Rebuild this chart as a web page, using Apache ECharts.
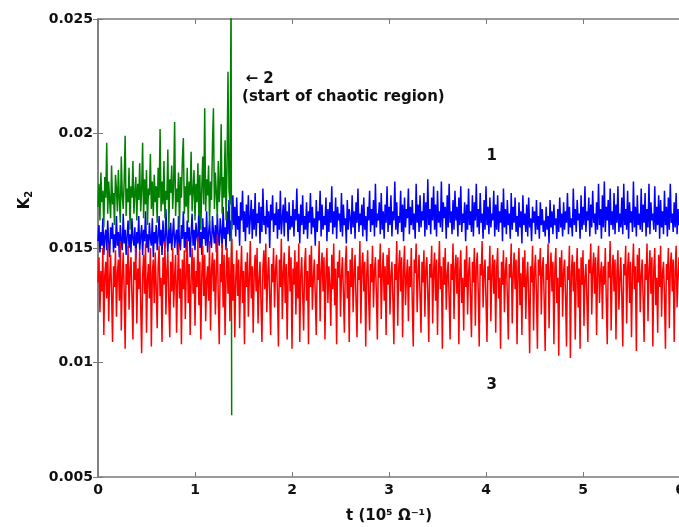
<!DOCTYPE html>
<html>
<head>
<meta charset="utf-8">
<script src="https://cdn.jsdelivr.net/npm/echarts@6/dist/echarts.min.js"></script>
<style>html,body{margin:0;padding:0;background:#fff;}#c{width:679px;height:527px;}</style>
</head>
<body>
<div id="c"></div>
<script>
// sampling step of the time axis (10^5 / Omega)
const T_STEP = 0.01;
const xTicks = [0, 1, 2, 3, 4, 5, 6];
const yTicks = [0.005, 0.01, 0.015, 0.02, 0.025];

// curve 1 (blue), t = 0 .. 6
const curve1 = [
.0153,.0160,.0148,.0157,.0151,.0163,.0147,.0155,.0158,.0149,.0162,.0152,.0146,.0159,.0154,.0161,.0148,.0156,.0150,.0164,
.0151,.0157,.0146,.0160,.0153,.0149,.0165,.0152,.0158,.0147,.0155,.0162,.0150,.0156,.0148,.0163,.0154,.0151,.0159,.0145,
.0157,.0152,.0164,.0149,.0155,.0160,.0147,.0158,.0153,.0166,.0150,.0156,.0148,.0161,.0154,.0151,.0163,.0146,.0157,.0152,
.0160,.0149,.0155,.0164,.0151,.0158,.0147,.0162,.0153,.0150,.0167,.0155,.0148,.0159,.0152,.0161,.0149,.0156,.0163,.0150,
.0155,.0158,.0147,.0164,.0152,.0149,.0160,.0154,.0166,.0150,.0157,.0148,.0162,.0153,.0159,.0146,.0156,.0165,.0151,.0158,
.0149,.0161,.0155,.0152,.0168,.0150,.0157,.0147,.0163,.0154,.0159,.0151,.0166,.0148,.0156,.0162,.0153,.0150,.0164,.0157,
.0152,.0160,.0148,.0165,.0155,.0151,.0163,.0157,.0150,.0168,.0154,.0159,.0149,.0166,.0156,.0171,.0153,.0162,.0158,.0173,
.0160,.0168,.0155,.0172,.0158,.0164,.0151,.0170,.0162,.0175,.0157,.0166,.0153,.0169,.0159,.0173,.0156,.0163,.0171,.0154,
.0167,.0158,.0174,.0155,.0165,.0161,.0170,.0152,.0168,.0157,.0176,.0160,.0164,.0156,.0171,.0159,.0166,.0150,.0169,.0162,
.0173,.0157,.0165,.0160,.0170,.0154,.0167,.0158,.0175,.0156,.0163,.0169,.0155,.0172,.0161,.0166,.0153,.0170,.0158,.0164,
.0159,.0171,.0155,.0167,.0162,.0176,.0157,.0165,.0152,.0169,.0160,.0173,.0156,.0164,.0158,.0170,.0154,.0166,.0161,.0174,
.0156,.0168,.0159,.0163,.0151,.0171,.0157,.0166,.0162,.0175,.0155,.0169,.0158,.0164,.0160,.0172,.0153,.0167,.0157,.0170,
.0161,.0177,.0156,.0166,.0159,.0172,.0154,.0168,.0162,.0165,.0157,.0174,.0155,.0169,.0160,.0163,.0152,.0171,.0158,.0167,
.0163,.0156,.0173,.0159,.0166,.0154,.0170,.0161,.0176,.0157,.0165,.0160,.0169,.0155,.0172,.0158,.0164,.0153,.0168,.0162,
.0175,.0157,.0167,.0160,.0171,.0155,.0178,.0159,.0165,.0162,.0170,.0156,.0174,.0158,.0166,.0154,.0169,.0161,.0177,.0157,
.0168,.0160,.0173,.0155,.0166,.0162,.0179,.0158,.0170,.0156,.0164,.0161,.0175,.0157,.0169,.0153,.0172,.0159,.0167,.0163,
.0176,.0156,.0168,.0160,.0171,.0158,.0165,.0154,.0178,.0161,.0169,.0157,.0173,.0159,.0166,.0162,.0174,.0155,.0170,.0158,
.0180,.0160,.0167,.0156,.0172,.0162,.0177,.0158,.0169,.0155,.0175,.0161,.0166,.0159,.0179,.0157,.0170,.0163,.0168,.0154,
.0173,.0159,.0178,.0161,.0166,.0156,.0171,.0158,.0175,.0162,.0168,.0155,.0172,.0160,.0177,.0157,.0165,.0161,.0170,.0153,
.0169,.0158,.0176,.0160,.0166,.0157,.0173,.0155,.0170,.0162,.0178,.0159,.0167,.0156,.0174,.0161,.0165,.0154,.0171,.0158,
.0177,.0160,.0168,.0156,.0172,.0159,.0165,.0162,.0175,.0155,.0169,.0158,.0173,.0157,.0166,.0161,.0170,.0153,.0176,.0159,
.0167,.0156,.0171,.0160,.0165,.0154,.0174,.0158,.0168,.0161,.0172,.0157,.0164,.0155,.0170,.0159,.0166,.0152,.0173,.0160,
.0165,.0157,.0169,.0155,.0172,.0159,.0163,.0153,.0168,.0161,.0166,.0156,.0171,.0158,.0164,.0154,.0170,.0160,.0167,.0157,
.0162,.0155,.0168,.0158,.0164,.0152,.0171,.0159,.0166,.0156,.0169,.0160,.0163,.0154,.0167,.0157,.0172,.0159,.0165,.0155,
.0170,.0158,.0166,.0161,.0174,.0156,.0168,.0159,.0163,.0155,.0176,.0160,.0167,.0157,.0171,.0162,.0165,.0154,.0173,.0158,
.0168,.0160,.0177,.0157,.0166,.0162,.0172,.0155,.0169,.0159,.0175,.0161,.0165,.0156,.0170,.0158,.0178,.0160,.0167,.0154,
.0173,.0159,.0179,.0157,.0168,.0162,.0171,.0155,.0176,.0160,.0166,.0158,.0174,.0156,.0169,.0161,.0177,.0157,.0165,.0159,
.0172,.0156,.0178,.0160,.0167,.0158,.0175,.0154,.0170,.0161,.0166,.0157,.0179,.0159,.0168,.0155,.0173,.0160,.0165,.0158,
.0176,.0157,.0169,.0161,.0174,.0155,.0167,.0159,.0178,.0156,.0170,.0162,.0165,.0158,.0177,.0157,.0168,.0160,.0173,.0154,
.0171,.0159,.0166,.0156,.0175,.0160,.0168,.0155,.0172,.0158,.0178,.0161,.0165,.0157,.0170,.0159,.0174,.0156,.0167,.0160,
.0163
];

// curve 3 (red), t = 0 .. 6
const curve3 = [
.0135,.0146,.0122,.0140,.0131,.0150,.0112,.0138,.0144,.0128,.0152,.0118,.0136,.0147,.0130,.0109,.0142,.0133,.0149,.0120,
.0139,.0145,.0127,.0153,.0114,.0137,.0148,.0131,.0106,.0143,.0134,.0151,.0123,.0140,.0146,.0129,.0110,.0144,.0136,.0150,
.0117,.0141,.0132,.0149,.0125,.0104,.0138,.0147,.0130,.0152,.0113,.0136,.0143,.0128,.0150,.0107,.0139,.0145,.0126,.0148,
.0133,.0115,.0142,.0151,.0129,.0137,.0109,.0146,.0134,.0153,.0121,.0140,.0148,.0127,.0111,.0144,.0131,.0150,.0124,.0138,
.0147,.0113,.0135,.0152,.0128,.0141,.0108,.0145,.0132,.0149,.0119,.0139,.0154,.0126,.0143,.0112,.0136,.0150,.0130,.0146,
.0116,.0140,.0133,.0155,.0125,.0144,.0110,.0138,.0151,.0129,.0147,.0118,.0136,.0142,.0127,.0153,.0114,.0140,.0148,.0131,
.0145,.0121,.0139,.0156,.0128,.0108,.0143,.0135,.0152,.0124,.0147,.0112,.0137,.0150,.0130,.0146,.0118,.0141,.0154,.0127,
.0143,.0111,.0136,.0149,.0129,.0145,.0115,.0138,.0151,.0126,.0140,.0108,.0144,.0133,.0148,.0120,.0137,.0153,.0128,.0142,
.0113,.0139,.0147,.0131,.0150,.0117,.0136,.0144,.0127,.0109,.0141,.0149,.0132,.0152,.0122,.0138,.0146,.0129,.0112,.0143,
.0135,.0150,.0124,.0140,.0147,.0130,.0107,.0145,.0133,.0154,.0119,.0139,.0148,.0126,.0143,.0110,.0137,.0151,.0131,.0146,
.0106,.0141,.0134,.0149,.0121,.0144,.0128,.0152,.0109,.0138,.0146,.0130,.0114,.0142,.0150,.0127,.0140,.0108,.0147,.0133,
.0151,.0123,.0137,.0145,.0129,.0112,.0143,.0136,.0153,.0118,.0140,.0148,.0131,.0146,.0110,.0139,.0150,.0126,.0142,.0134,
.0116,.0147,.0132,.0152,.0125,.0141,.0108,.0144,.0137,.0149,.0120,.0138,.0146,.0130,.0113,.0143,.0151,.0128,.0140,.0109,
.0145,.0133,.0150,.0122,.0139,.0147,.0127,.0111,.0142,.0136,.0153,.0117,.0141,.0148,.0131,.0144,.0107,.0138,.0149,.0129,
.0114,.0143,.0135,.0151,.0124,.0140,.0146,.0130,.0110,.0145,.0137,.0152,.0119,.0139,.0148,.0127,.0142,.0112,.0147,.0134,
.0150,.0121,.0138,.0144,.0128,.0108,.0143,.0136,.0153,.0116,.0141,.0149,.0131,.0146,.0111,.0140,.0151,.0125,.0137,.0145,
.0118,.0142,.0133,.0150,.0126,.0107,.0145,.0139,.0152,.0122,.0138,.0147,.0129,.0113,.0144,.0135,.0149,.0120,.0141,.0146,
.0130,.0109,.0143,.0137,.0151,.0117,.0140,.0148,.0127,.0145,.0112,.0139,.0153,.0132,.0142,.0106,.0146,.0134,.0150,.0123,
.0138,.0144,.0128,.0110,.0143,.0136,.0152,.0119,.0141,.0147,.0130,.0146,.0108,.0140,.0149,.0126,.0137,.0114,.0145,.0133,
.0151,.0121,.0139,.0146,.0129,.0111,.0144,.0135,.0150,.0116,.0142,.0148,.0131,.0107,.0143,.0138,.0153,.0124,.0140,.0145,
.0127,.0109,.0142,.0136,.0151,.0118,.0139,.0147,.0130,.0145,.0113,.0141,.0150,.0128,.0137,.0106,.0144,.0134,.0149,.0122,
.0140,.0146,.0129,.0110,.0143,.0137,.0152,.0117,.0138,.0148,.0132,.0145,.0108,.0141,.0150,.0125,.0139,.0112,.0146,.0133,
.0149,.0119,.0137,.0144,.0128,.0104,.0142,.0135,.0151,.0114,.0140,.0147,.0130,.0106,.0145,.0138,.0150,.0121,.0141,.0146,
.0127,.0105,.0143,.0136,.0152,.0115,.0139,.0148,.0131,.0144,.0108,.0141,.0150,.0126,.0137,.0103,.0146,.0133,.0149,.0120,
.0140,.0145,.0129,.0107,.0142,.0136,.0151,.0102,.0139,.0147,.0131,.0144,.0110,.0138,.0150,.0124,.0141,.0106,.0146,.0134,
.0149,.0116,.0137,.0143,.0128,.0109,.0145,.0139,.0152,.0121,.0140,.0148,.0130,.0146,.0112,.0141,.0151,.0126,.0138,.0144,
.0119,.0142,.0134,.0150,.0127,.0108,.0144,.0137,.0153,.0114,.0139,.0147,.0131,.0145,.0110,.0140,.0149,.0123,.0136,.0146,
.0129,.0107,.0143,.0138,.0151,.0117,.0141,.0148,.0126,.0144,.0111,.0139,.0152,.0132,.0142,.0105,.0147,.0135,.0150,.0122,
.0138,.0145,.0128,.0109,.0143,.0136,.0152,.0118,.0140,.0149,.0130,.0146,.0107,.0141,.0150,.0125,.0137,.0113,.0147,.0133,
.0151,.0120,.0139,.0144,.0129,.0106,.0143,.0136,.0150,.0115,.0142,.0148,.0131,.0145,.0109,.0140,.0151,.0124,.0138,.0146,
.0132
];

// curve 2 (green), t = 0 .. 1.36, then the burst at the start of the chaotic region
const curve2 = [
.0168,.0178,.0162,.0183,.0170,.0175,.0159,.0181,.0172,.0196,.0165,.0179,.0171,.0163,.0186,.0169,.0174,.0160,.0182,.0176,
.0166,.0184,.0171,.0161,.0190,.0173,.0167,.0179,.0199,.0164,.0176,.0170,.0185,.0158,.0177,.0172,.0188,.0165,.0174,.0181,
.0162,.0178,.0171,.0187,.0166,.0175,.0196,.0163,.0180,.0169,.0184,.0160,.0176,.0173,.0191,.0167,.0179,.0164,.0182,.0170,
.0177,.0161,.0185,.0172,.0202,.0166,.0179,.0169,.0188,.0163,.0175,.0171,.0193,.0158,.0180,.0174,.0186,.0167,.0178,.0205,
.0164,.0176,.0170,.0183,.0159,.0181,.0172,.0189,.0198,.0165,.0177,.0168,.0185,.0161,.0179,.0173,.0192,.0166,.0175,.0184,
.0162,.0178,.0170,.0187,.0164,.0182,.0158,.0176,.0190,.0169,.0211,.0166,.0180,.0173,.0186,.0160,.0179,.0171,.0195,.0211,
.0167,.0183,.0174,.0163,.0188,.0170,.0178,.0204,.0165,.0181,.0172,.0197,.0162,.0185,.0227,.0176,.0169
];
const curve2BurstT = [1.372, 1.378];
const curve2BurstK = [0.0262, 0.0077];

function pairs(vals) { return vals.map((v, i) => [+(i * T_STEP).toFixed(3), v]); }
const d1 = pairs(curve1);
const d3 = pairs(curve3);
const d2 = pairs(curve2).concat(curve2BurstT.map((t, i) => [t, curve2BurstK[i]]));

const FONT = 'DejaVu Sans';
const axisCol = '#7a7a7a';

const chart = echarts.init(document.getElementById('c'), null, {renderer: 'canvas'});
chart.setOption({
  animation: false,
  backgroundColor: '#ffffff',
  grid: {left: 98, top: 19, width: 582, height: 458, containLabel: false, outerBoundsMode: 'none'},
  xAxis: [{
    type: 'value', min: 0, max: 6, interval: 1,
    name: 't (10\u2075 \u03A9\u207B\u00B9)', nameLocation: 'middle', nameGap: 32,
    nameTextStyle: {fontFamily: FONT, fontWeight: 'bold', fontSize: 15, color: '#111'},
    axisLine: {show: true, lineStyle: {color: axisCol, width: 1.5}},
    axisTick: {show: true, inside: true, length: 5, lineStyle: {color: axisCol}},
    axisLabel: {fontFamily: FONT, fontWeight: 'bold', fontSize: 14, color: '#111', margin: 6,
      formatter: v => xTicks.includes(v) ? String(v) : ''},
    splitLine: {show: false}
  }, {
    type: 'value', min: 0, max: 6, interval: 1, position: 'top',
    axisLine: {show: true, lineStyle: {color: axisCol, width: 1.5}},
    axisTick: {show: true, inside: true, length: 5, lineStyle: {color: axisCol}},
    axisLabel: {show: false}, splitLine: {show: false}
  }],
  yAxis: [{
    type: 'value', min: 0.005, max: 0.025, interval: 0.005,
    axisLine: {show: true, lineStyle: {color: axisCol, width: 1.5}},
    axisTick: {show: true, inside: true, length: 5, lineStyle: {color: axisCol}},
    axisLabel: {fontFamily: FONT, fontWeight: 'bold', fontSize: 14, color: '#111', margin: 5,
      formatter: v => String(+v.toFixed(3))},
    splitLine: {show: false}
  }, {
    type: 'value', min: 0.005, max: 0.025, interval: 0.005, position: 'right',
    axisLine: {show: true, lineStyle: {color: axisCol, width: 1.5}},
    axisTick: {show: true, inside: true, length: 5, lineStyle: {color: axisCol}},
    axisLabel: {show: false}, splitLine: {show: false}
  }],
  series: [
    {name: '1', type: 'line', data: d1, symbol: 'none', clip: true, z: 2,
     lineStyle: {color: '#0000ff', width: 1.5}},
    {name: '2', type: 'line', data: d2, symbol: 'none', clip: true, z: 3,
     lineStyle: {color: '#008000', width: 1.5}},
    {name: '3', type: 'line', data: d3, symbol: 'none', clip: true, z: 4,
     lineStyle: {color: '#ff0000', width: 1.5}}
  ]
});

// text annotations positioned in data coordinates
function px(t, k) { return chart.convertToPixel({gridIndex: 0}, [t, k]); }
const a2 = px(1.52, 0.02238);
const a2b = px(1.485, 0.0216);
const a1 = px(4.06, 0.0190);
const a3 = px(4.06, 0.0090);
const txt = {fontFamily: FONT, fontWeight: 'bold', fontSize: 15, fill: '#111', textVerticalAlign: 'middle'};
chart.setOption({
  graphic: [
    {type: 'text', x: a2[0], y: a2[1], style: Object.assign({}, txt, {text: '\u2190 2', textAlign: 'left'})},
    {type: 'text', x: a2b[0], y: a2b[1], style: Object.assign({}, txt, {text: '(start of chaotic region)', textAlign: 'left'})},
    {type: 'text', x: a1[0], y: a1[1], style: Object.assign({}, txt, {text: '1', textAlign: 'center'})},
    {type: 'text', x: a3[0], y: a3[1], style: Object.assign({}, txt, {text: '3', textAlign: 'center'})},
    {type: 'text', x: 25, y: 200, rotation: Math.PI / 2,
     style: {text: '{k|K}{s|2}', textAlign: 'center', textVerticalAlign: 'middle',
       rich: {k: {fontFamily: FONT, fontSize: 15, fontWeight: 'bold', fill: '#111'},
              s: {fontFamily: FONT, fontSize: 10, fontWeight: 'bold', fill: '#111', verticalAlign: 'bottom', padding: [8, 0, 0, 0]}}}}
  ]
});
</script>
</body>
</html>
